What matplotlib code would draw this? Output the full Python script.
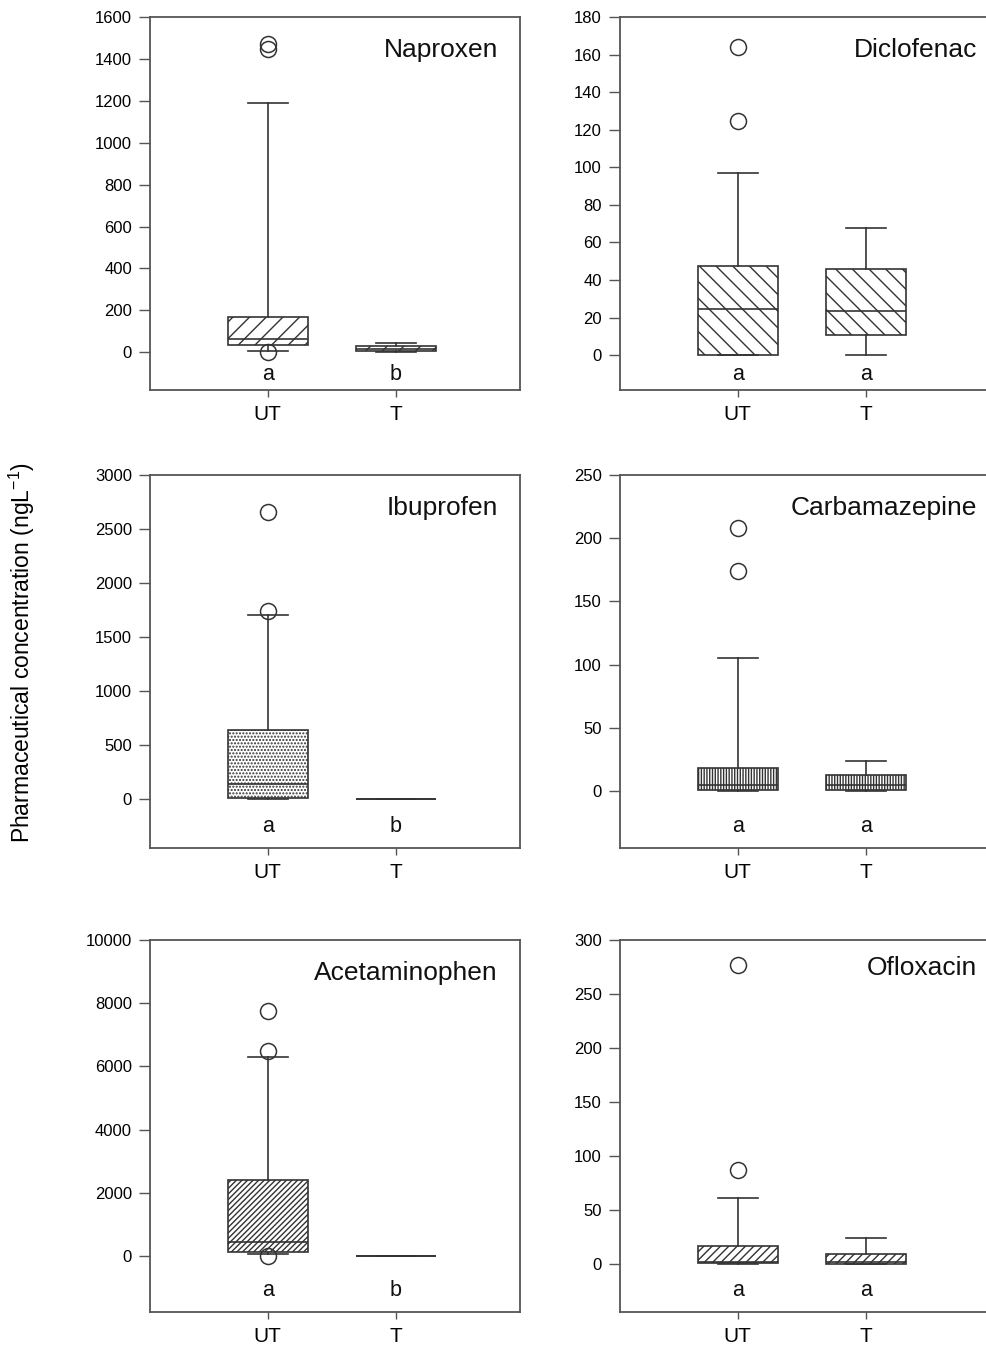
import matplotlib
matplotlib.use("Agg")
import matplotlib.pyplot as plt

plt.rcParams['font.family'] = ['Liberation Sans', 'DejaVu Sans']
plt.rcParams['mathtext.fontset'] = 'custom'
plt.rcParams['mathtext.rm'] = 'Liberation Sans'
plt.rcParams['hatch.color'] = '#333333'
plt.rcParams['hatch.linewidth'] = 1.0

# data (ng/L)
groups = ["UT", "T"]
compounds = ["Naproxen", "Diclofenac", "Ibuprofen", "Carbamazepine",
             "Acetaminophen", "Ofloxacin"]

# per compound: [UT, T] values
whislo = [[8, 0], [0, 0], [0, 0], [0, 0], [60, 0], [0, 0]]
q1 = [[33, 5], [0, 10.5], [5, 0], [1, 1], [130, 0], [1, 0]]
med = [[62, 16], [24.5, 23.5], [140, 0], [5, 5], [440, 0], [2, 2]]
q3 = [[168, 28], [47.5, 46], [640, 0], [18, 12.5], [2400, 0], [17, 9]]
whishi = [[1190, 43], [97, 67.5], [1700, 0], [105, 24], [6300, 0], [61, 24]]
fliers = [[[0, 1445, 1472], []],
          [[124.5, 164], []],
          [[1740, 2660], []],
          [[174, 208], []],
          [[0, 6500, 7750], []],
          [[87, 277], []]]
letters = [["a", "b"], ["a", "a"], ["a", "b"], ["a", "a"], ["a", "b"], ["a", "a"]]

ymax = [1600, 180, 3000, 250, 10000, 300]
ymin = [-180, -18.6, -454, -45, -1772, -44.4]
ystep = [200, 20, 500, 50, 2000, 50]
hatches = ['//', '\\\\', '.....', '||||||', '//////', '////']

W, H = 987, 1346
fig = plt.figure(figsize=(W / 100, H / 100), dpi=100)

lefts = [150, 620]
tops = [17, 475, 940]
bottoms = [390, 848, 1312]
ink = '#333333'

for i, name in enumerate(compounds):
    r, c = divmod(i, 2)
    ax = fig.add_axes([lefts[c] / W, 1 - bottoms[r] / H,
                       370 / W, (bottoms[r] - tops[r]) / H])
    stats = []
    for j in range(2):
        stats.append(dict(whislo=whislo[i][j], q1=q1[i][j], med=med[i][j],
                          q3=q3[i][j], whishi=whishi[i][j],
                          fliers=fliers[i][j]))
    ax.bxp(stats, positions=[1, 2], widths=0.625, capwidths=0.31,
           patch_artist=True,
           boxprops=dict(facecolor='white', edgecolor=ink, linewidth=1.2,
                         hatch=hatches[i]),
           medianprops=dict(color=ink, linewidth=1.2),
           whiskerprops=dict(color=ink, linewidth=1.2),
           capprops=dict(color=ink, linewidth=1.2),
           flierprops=dict(marker='o', markerfacecolor='none',
                           markeredgecolor=ink, markersize=11.5,
                           markeredgewidth=1.1))
    ax.set_xlim(0.08, 2.97)
    ax.set_ylim(ymin[i], ymax[i])
    ax.set_yticks(range(0, ymax[i] + 1, ystep[i]))
    ax.set_xticks([1, 2])
    ax.set_xticklabels(groups, fontsize=15)
    ax.tick_params(axis='y', labelsize=12, length=8, width=1, pad=5,
                   color='#555555')
    ax.tick_params(axis='x', length=5, width=1, pad=6, color='#555555')
    for sp in ax.spines.values():
        sp.set_color('#555555')
        sp.set_linewidth(1.3)

    tx = 0.94 if c == 0 else 0.966
    ty = 0.912 if i != 5 else 0.925
    ax.text(tx, ty, name, transform=ax.transAxes, ha='right', va='center',
            fontsize=19, color='#111111')
    ly = 0.042 if r == 0 else 0.057
    for j in range(2):
        ax.text(j + 1, ly, letters[i][j], transform=ax.get_xaxis_transform(),
                ha='center', va='center', fontsize=15.5, color='#111111')

fig.text(22 / W, 0.515, r"Pharmaceutical concentration (ngL$^{\mathregular{-1}}$)",
         rotation=90, ha='center', va='center', fontsize=16.5)

fig.savefig("out.png", dpi=100)
